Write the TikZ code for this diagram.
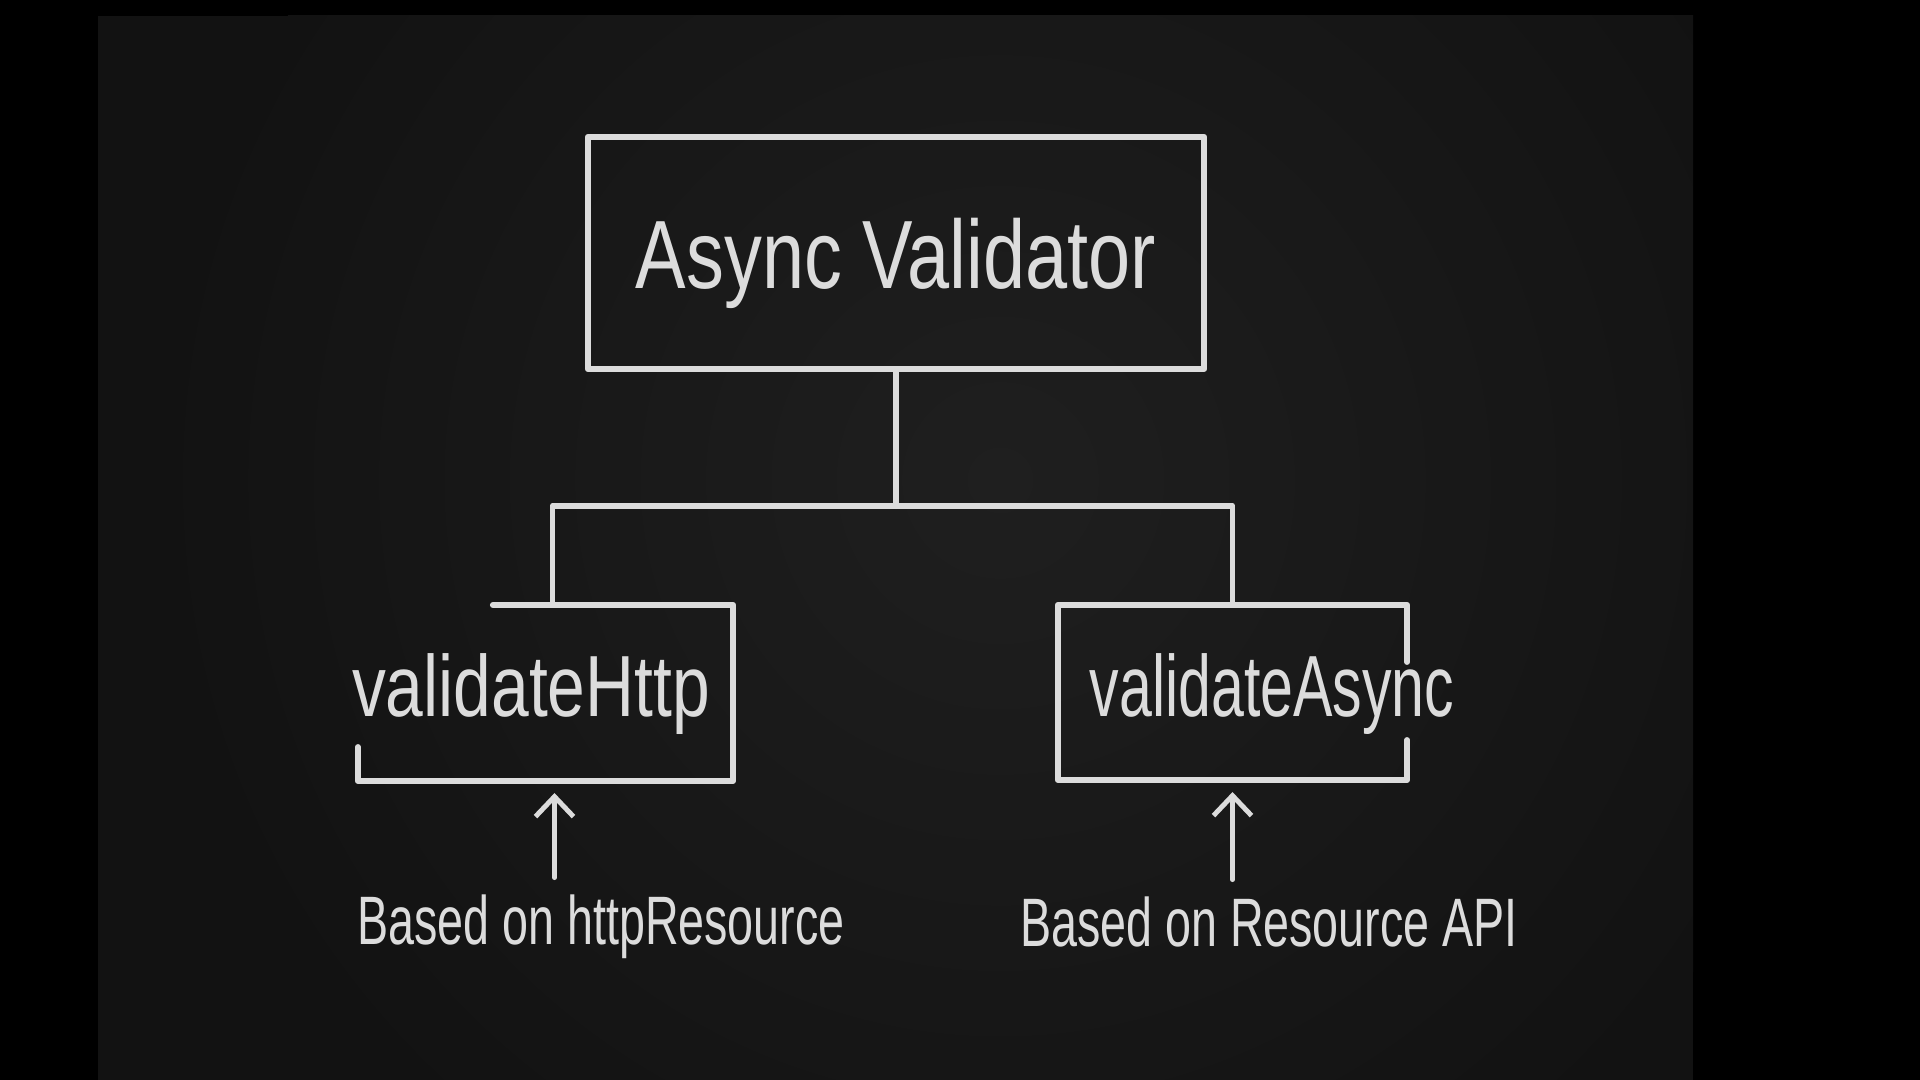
\documentclass[tikz,border=0pt]{standalone}
\usepackage{fontspec}
\newfontfamily\chalkfont[FakeStretch=0.78]{Liberation Sans}
\newfontfamily\chalknarrow[FakeStretch=0.68]{Liberation Sans}
\usetikzlibrary{arrows.meta,calc,positioning}
\definecolor{board}{HTML}{121212}
\definecolor{boardlight}{HTML}{1F1F1F}
\definecolor{chalk}{HTML}{DCDCDC}

\tikzset{
    chalkline/.style={draw=chalk, line width=1.7pt, line cap=round, line join=round},
    chalkarrow/.style={chalkline, line width=1.4pt,
        -{Straight Barb[length=2mm,width=3.8mm]},
        shorten >=0.12cm, shorten <=0.17cm},
    titlebox/.style={chalkline, outer sep=0pt, inner sep=0pt,
        minimum width=6.16cm, minimum height=2.32cm, text=chalk,
        text depth=0pt, font=\chalkfont\fontsize{27.6pt}{30pt}\selectfont},
    subbox/.style={outer sep=0pt, inner sep=0pt},
    chalktext/.style={text=chalk, inner sep=0pt, anchor=base},
}

\begin{document}
\begin{tikzpicture}[x=0.01cm, y=-0.01cm]
\useasboundingbox (0,0) rectangle (1920,1080);
\fill[black] (0,0) rectangle (1920,1080);
\begin{scope}
    \clip (98,16) rectangle (1693,1080);
    \fill[board] (98,16) rectangle (1693,1080);
    \shade[inner color=boardlight, outer color=board] (1000,480) circle (850);
\end{scope}

% main box
\node[titlebox] (title) at (896,253) {Async Validator};

% the two validators
\node[subbox, minimum width=3.75cm, minimum height=1.76cm] (hbox) at (545.5,693) {};
\node[subbox, minimum width=3.49cm, minimum height=1.75cm] (abox) at (1232.5,692.5) {};
\node[chalktext, font=\chalkfont\fontsize{24.7pt}{27pt}\selectfont] (http) at (531,717) {validateHttp};
\node[chalktext, font=\chalknarrow\fontsize{24.7pt}{27pt}\selectfont] (async) at (1272,717) {validateAsync};

\draw[chalkline] ($(hbox.north west)+(135,0)$) -- (hbox.north east) -- (hbox.south east)
    -- (hbox.south west) -- ($(hbox.south west)+(0,-34)$);
\draw[chalkline] ($(abox.north east)+(0,57)$) -- (abox.north east) -- (abox.north west)
    -- (abox.south west) -- (abox.south east) -- ($(abox.south east)+(0,-40)$);

% tree
\draw[chalkline] (title.south) -- ++(0,137) coordinate (fork);
\coordinate (hdrop) at ($(hbox.north)+(7,0)$);
\draw[chalkline] (hdrop) |- (fork) -| (abox.north);

% notes
\node[chalktext, font=\chalknarrow\fontsize{19.5pt}{22pt}\selectfont] (hnote) at (601,945) {Based on httpResource};
\node[chalktext, font=\chalknarrow\fontsize{19.5pt}{22pt}\selectfont] (anote) at (1269,947) {Based on Resource API};

\coordinate (hfoot) at ($(hbox.south)+(9,0)$);
\draw[chalkarrow] (hfoot |- hnote.north) -- (hfoot);
\draw[chalkarrow] (abox.south |- anote.north) -- (abox.south);

\end{tikzpicture}
\end{document}
